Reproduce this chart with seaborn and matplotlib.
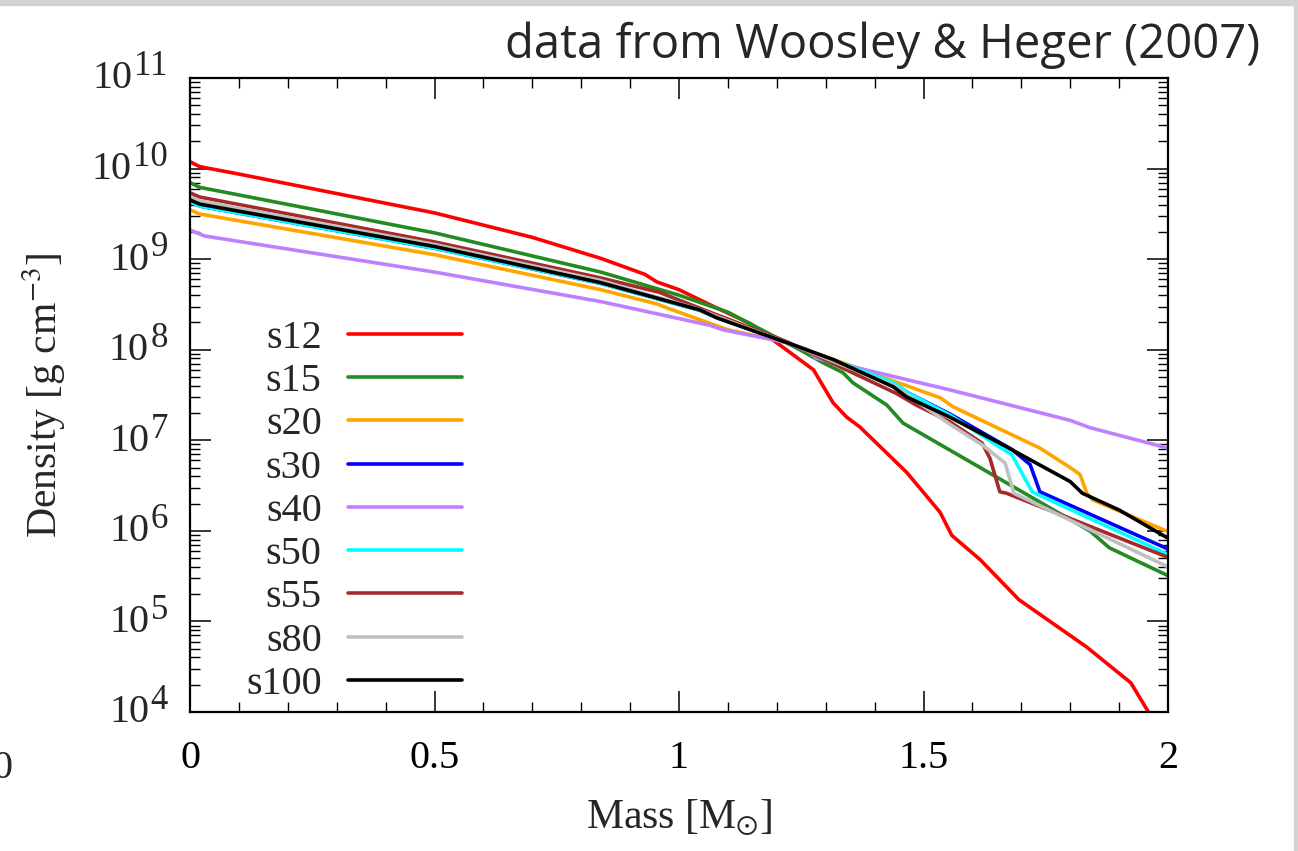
import numpy as np
import pandas as pd
import matplotlib
matplotlib.use("Agg")
import matplotlib.pyplot as plt
import seaborn as sns
from matplotlib.patches import Rectangle
from matplotlib.ticker import LogLocator, MultipleLocator, FixedLocator, NullFormatter

# ---- data ----
models = ["s12", "s15", "s20", "s30", "s40", "s50", "s55", "s80", "s100"]
colors = ["#ff0000", "#228b22", "#ffa500", "#0000ff", "#bf80ff",
          "#00ffff", "#a52a2a", "#c0c0c0", "#000000"]

m_s12 = [0, 0.02, 0.1, 0.3, 0.5, 0.7, 0.84, 0.93, 0.955, 1.0, 1.06, 1.145, 1.207,
         1.275, 1.315, 1.343, 1.37, 1.466, 1.534, 1.558, 1.616, 1.695, 1.834, 1.924, 1.96]
d_s12 = [1.19e10, 1.05e10, 8.7e9, 5.3e9, 3.24e9, 1.74e9, 1.02e9, 6.8e8, 5.6e8, 4.6e8,
         3.2e8, 1.95e8, 1.12e8, 6.0e7, 2.6e7, 1.8e7, 1.4e7, 4.4e6, 1.6e6, 8.9e5,
         4.8e5, 1.74e5, 5.2e4, 2.1e4, 1.0e4]

m_s15 = [0, 0.02, 0.5, 0.84, 1.0, 1.1, 1.247, 1.294, 1.335, 1.356, 1.425, 1.458,
         1.84, 1.88, 2.0]
d_s15 = [7.0e9, 6.2e9, 1.95e9, 7.2e8, 4.0e8, 2.6e8, 1.0e8, 7.2e7, 5.6e7, 4.3e7,
         2.45e7, 1.55e7, 1.0e6, 6.5e5, 3.2e5]

m_s20 = [0, 0.02, 0.5, 0.84, 0.955, 0.975, 1.1, 1.22, 1.534, 1.56, 1.738, 1.80,
         1.82, 1.834, 1.846, 2.0]
d_s20 = [3.5e9, 3.15e9, 1.12e9, 4.6e8, 3.2e8, 2.9e8, 1.66e8, 1.2e8, 2.95e7, 2.35e7,
         8.2e6, 5.0e6, 4.2e6, 2.6e6, 2.2e6, 9.8e5]

m_s30 = [0, 0.02, 0.5, 0.84, 1.04, 1.08, 1.22, 1.44, 1.47, 1.554, 1.681, 1.718, 1.738, 2.0]
d_s30 = [4.3e9, 3.85e9, 1.32e9, 5.4e8, 2.75e8, 2.25e8, 1.2e8, 4.2e7, 3.3e7, 1.95e7,
         7.9e6, 5.4e6, 2.7e6, 6.3e5]

m_s40 = [0, 0.03, 0.5, 0.84, 1.063, 1.09, 1.22, 1.26, 1.28, 1.554, 1.80, 1.84, 2.0]
d_s40 = [2.1e9, 1.8e9, 7.2e8, 3.4e8, 1.86e8, 1.66e8, 1.2e8, 1.02e8, 8.1e7, 3.6e7,
         1.66e7, 1.38e7, 8.2e6]

m_s50 = [0, 0.02, 0.5, 0.84, 1.04, 1.08, 1.22, 1.44, 1.47, 1.554, 1.681, 1.722, 2.0]
d_s50 = [4.3e9, 3.85e9, 1.32e9, 5.4e8, 2.75e8, 2.25e8, 1.2e8, 4.3e7, 3.3e7, 1.9e7,
         6.9e6, 2.7e6, 5.5e5]

m_s55 = [0, 0.02, 0.5, 0.84, 0.96, 1.063, 1.22, 1.444, 1.485, 1.554, 1.62, 1.636,
         1.656, 1.67, 2.0]
d_s55 = [5.4e9, 4.85e9, 1.55e9, 6.2e8, 4.3e8, 2.6e8, 1.23e8, 3.3e7, 2.45e7, 1.6e7,
         9.3e6, 6.3e6, 2.7e6, 2.6e6, 5.1e5]

m_s80 = [0, 0.02, 0.5, 0.84, 1.04, 1.08, 1.22, 1.44, 1.554, 1.62, 1.667, 1.685, 2.0]
d_s80 = [4.9e9, 4.4e9, 1.45e9, 5.8e8, 2.8e8, 2.3e8, 1.2e8, 4.0e7, 1.5e7, 8.9e6,
         5.6e6, 2.6e6, 4.0e5]

m_s100 = [0, 0.02, 0.5, 0.84, 1.043, 1.077, 1.22, 1.315, 1.438, 1.466, 1.554, 1.656,
          1.80, 1.825, 1.90, 2.0]
d_s100 = [4.5e9, 4.05e9, 1.38e9, 5.5e8, 2.75e8, 2.25e8, 1.2e8, 7.8e7, 3.9e7, 3.0e7,
          1.8e7, 9.3e6, 3.5e6, 2.6e6, 1.7e6, 8.3e5]

xtick_vals = [0, 0.5, 1, 1.5, 2]
xtick_labels = ["0", "0.5", "1", "1.5", "2"]
ytick_vals = [1e4, 1e5, 1e6, 1e7, 1e8, 1e9, 1e10, 1e11]
ytick_base = "10"
ytick_exps = ["4", "5", "6", "7", "8", "9", "10", "11"]

series = {
    "s12": (m_s12, d_s12), "s15": (m_s15, d_s15), "s20": (m_s20, d_s20),
    "s30": (m_s30, d_s30), "s40": (m_s40, d_s40), "s50": (m_s50, d_s50),
    "s55": (m_s55, d_s55), "s80": (m_s80, d_s80), "s100": (m_s100, d_s100),
}
rows = []
for name in models:
    mm, dd = series[name]
    for a, b in zip(mm, dd):
        rows.append((name, a, b))
df = pd.DataFrame(rows, columns=["model", "mass", "density"])

# ---- style ----
sns.set_theme(style="white")
plt.rcParams["font.family"] = ["Liberation Serif", "DejaVu Serif"]
plt.rcParams["mathtext.fontset"] = "stix"

FS = 29
DPI = 100
fig = plt.figure(figsize=(12.98, 8.51), dpi=DPI)
ax = fig.add_axes([190 / 1298, 1 - 712 / 851, (1168 - 190) / 1298, (712 - 78) / 851])

sns.lineplot(data=df, x="mass", y="density", hue="model", hue_order=models,
             palette=dict(zip(models, colors)), estimator=None, sort=False,
             linewidth=2.6, ax=ax, legend=True)

ax.set_yscale("log")
ax.set_xlim(0, 2)
ax.set_ylim(1e4, 1e11)

ax.xaxis.set_major_locator(FixedLocator(xtick_vals))
ax.set_xticklabels(xtick_labels)
ax.xaxis.set_minor_locator(MultipleLocator(0.1))
ax.yaxis.set_major_locator(FixedLocator(ytick_vals))
ax.set_yticklabels([""] * len(ytick_vals))
ax.yaxis.set_minor_locator(LogLocator(base=10, subs=np.arange(2, 10), numticks=20))
ax.yaxis.set_minor_formatter(NullFormatter())

ax.tick_params(which="both", direction="in", top=True, right=True, bottom=True, left=True,
               colors="black", labelsize=FS)
ax.tick_params(which="major", length=15, width=1.1)
ax.tick_params(which="minor", length=7, width=1.0)
ax.tick_params(axis="x", which="major", pad=20)
for sp in ax.spines.values():
    sp.set_color("black")
    sp.set_linewidth(1.6)

# y tick labels: "10" with a large exponent
fig.canvas.draw()
renderer = fig.canvas.get_renderer()
for val, ex in zip(ytick_vals, ytick_exps):
    te = ax.annotate(ex, xy=(0, val), xycoords=("axes fraction", "data"),
                     xytext=(-16, 2), textcoords="offset points",
                     ha="right", va="baseline", fontsize=25)
    w_pt = te.get_window_extent(renderer).width * 72 / DPI
    ax.annotate(ytick_base, xy=(0, val), xycoords=("axes fraction", "data"),
                xytext=(-16 - w_pt - 1, -7.5), textcoords="offset points",
                ha="right", va="baseline", fontsize=FS)

ax.set_xlabel(r"Mass [M$_{\odot}$]", fontsize=30)
ax.xaxis.set_label_coords(0.5, -0.135)
ax.set_ylabel(r"Density [g cm$^{-3}$]", fontsize=30)
ax.yaxis.set_label_coords(-0.125, 0.5)

leg = ax.legend(loc="upper right", bbox_to_anchor=(0.2945, 0.644), frameon=False,
                markerfirst=False, fontsize=FS, handlelength=2.83, handletextpad=0.65,
                labelspacing=0.15, borderaxespad=0)
for line in leg.get_lines():
    line.set_linewidth(2.6)

# title in sans font
fig.text(1260 / 1298, 1 - 58 / 851, "data from Woosley & Heger (2007)",
         ha="right", va="baseline", fontsize=34,
         family=["Open Sans", "DejaVu Sans"])

# slide border remnants
fig.patches.append(Rectangle((0, 1 - 5 / 851), 1, 5 / 851, transform=fig.transFigure,
                             color="#d3d3d3", zorder=0))
fig.patches.append(Rectangle((1 - 4 / 1298, 0), 4 / 1298, 1, transform=fig.transFigure,
                             color="#d3d3d3", zorder=0))
fig.text(-0.006, 1 - 768 / 851, "0", ha="left", va="center", fontsize=FS)

fig.savefig("out.png", dpi=DPI)
